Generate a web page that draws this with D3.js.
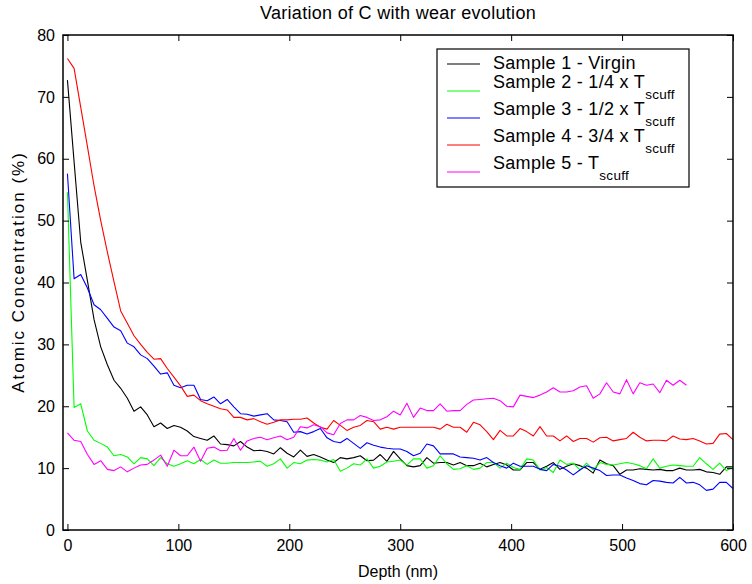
<!DOCTYPE html>
<html>
<head>
<meta charset="utf-8">
<script src="https://cdn.jsdelivr.net/npm/d3@7"></script>
<style>
  body { margin: 0; background: #fff; }
  svg text { font-family: "Liberation Sans", Arial, sans-serif; fill: #000; }
  .tick-label { font-size: 16px; }
</style>
</head>
<body>
<div id="chart"></div>
<script>
// depth grid (nm)
const depth = [0, 6, 12, 18, 24, 30, 36, 42, 48, 54, 60, 66, 72, 78, 84, 90, 96, 102, 108, 114,
  120, 126, 132, 138, 144, 150, 156, 162, 168, 174, 180, 186, 192, 198, 204, 210, 216, 222, 228, 234,
  240, 246, 252, 258, 264, 270, 276, 282, 288, 294, 300, 306, 312, 318, 324, 330, 336, 342, 348, 354,
  360, 366, 372, 378, 384, 390, 396, 402, 408, 414, 420, 426, 432, 438, 444, 450, 456, 462, 468, 474,
  480, 486, 492, 498, 504, 510, 516, 522, 528, 534, 540, 546, 552, 558, 564, 570, 576, 582, 588, 594, 600];

const sample1 = [72.7, 59.5, 46.5, 40.3, 34.0, 29.6, 26.7, 24.2, 22.9, 21.3,
  19.2, 19.9, 18.6, 16.7, 17.3, 16.4, 16.9, 16.6, 16.0, 15.1,
  14.8, 14.5, 15.2, 13.9, 13.8, 13.6, 14.3, 13.4, 12.8, 12.9,
  12.7, 12.3, 13.3, 12.4, 11.8, 12.9, 11.9, 12.2, 11.8, 11.3,
  10.9, 11.7, 11.5, 11.7, 12.0, 11.2, 11.3, 12.2, 11.1, 12.7,
  11.5, 10.4, 10.2, 10.4, 11.7, 10.8, 10.9, 10.9, 10.5, 10.9,
  10.4, 10.4, 10.8, 10.2, 10.6, 10.9, 10.5, 9.7, 9.7, 10.9,
  10.9, 9.8, 10.3, 10.9, 9.8, 10.3, 10.7, 10.4, 10.0, 9.2,
  11.3, 10.7, 10.4, 9.0, 9.7, 9.7, 9.9, 9.8, 9.7, 9.8,
  9.6, 9.6, 10.0, 9.7, 9.7, 9.8, 9.4, 9.3, 9.0, 10.2,
  10.2];

const sample2 = [54.6, 19.8, 20.4, 16.0, 14.5, 14.0, 13.4, 12.0, 12.2, 11.8,
  10.7, 11.7, 11.5, 10.4, 11.7, 10.7, 10.3, 10.7, 11.2, 10.7,
  11.4, 10.6, 11.3, 10.8, 10.8, 10.9, 10.9, 10.9, 11.0, 11.1,
  10.3, 10.7, 11.5, 10.0, 10.9, 10.7, 11.3, 11.4, 11.3, 11.0,
  11.4, 9.5, 10.0, 10.7, 10.5, 11.5, 10.0, 10.3, 11.0, 11.1,
  11.3, 10.5, 11.5, 11.5, 10.0, 10.4, 12.0, 10.7, 9.8, 9.9,
  10.4, 9.8, 10.0, 10.9, 10.9, 10.0, 10.8, 10.1, 9.8, 11.5,
  11.3, 9.7, 10.1, 9.3, 11.3, 10.6, 10.8, 9.7, 10.8, 9.7,
  10.9, 10.6, 10.5, 10.7, 10.9, 10.7, 10.4, 9.9, 11.5, 10.0,
  10.3, 10.5, 10.4, 10.3, 10.3, 11.7, 10.7, 9.8, 10.8, 9.6,
  10.2];

const sample3 = [57.6, 40.6, 41.3, 39.1, 36.4, 35.6, 34.2, 32.8, 32.2, 30.2,
  29.6, 28.3, 27.7, 26.5, 25.2, 25.4, 23.4, 23.0, 23.4, 23.4,
  21.1, 20.9, 21.5, 20.4, 21.1, 19.9, 18.8, 18.7, 18.4, 18.6,
  18.8, 17.8, 17.7, 17.5, 15.8, 15.9, 15.5, 15.9, 16.4, 14.9,
  14.3, 14.1, 14.8, 14.0, 13.2, 14.1, 13.7, 13.4, 13.2, 13.1,
  13.1, 12.7, 12.0, 12.4, 13.9, 13.6, 12.3, 12.3, 12.3, 11.8,
  11.7, 11.6, 11.3, 11.7, 10.9, 10.4, 10.0, 10.8, 10.3, 10.3,
  10.3, 9.8, 9.6, 10.6, 10.3, 9.7, 8.9, 9.7, 10.4, 10.0,
  9.6, 8.8, 8.9, 8.9, 8.4, 8.0, 7.5, 7.3, 8.0, 7.9,
  7.7, 7.6, 8.5, 7.6, 7.7, 7.3, 6.4, 6.6, 7.7, 7.7,
  6.7];

const sample4 = [76.2, 74.6, 68.3, 62.0, 55.6, 50.0, 44.9, 40.1, 35.4, 33.4,
  31.4, 30.0, 28.7, 27.6, 27.7, 26.1, 24.7, 23.3, 21.6, 21.8,
  20.9, 20.4, 20.0, 19.6, 19.4, 18.2, 18.2, 17.8, 18.0, 17.5,
  17.1, 17.4, 17.8, 17.8, 17.9, 17.9, 18.1, 17.3, 16.6, 16.3,
  17.7, 16.9, 16.1, 16.6, 16.9, 17.7, 17.5, 16.3, 16.6, 16.3,
  16.6, 16.6, 16.6, 16.6, 16.6, 16.6, 16.3, 17.1, 16.6, 16.6,
  15.8, 17.4, 17.0, 15.9, 14.6, 16.1, 15.2, 15.2, 16.4, 15.9,
  15.2, 16.7, 15.2, 15.2, 14.4, 15.2, 14.3, 14.8, 14.8, 14.2,
  14.9, 15.0, 14.4, 14.6, 14.8, 15.8, 15.0, 14.4, 14.5, 14.5,
  14.4, 15.2, 14.7, 14.6, 14.8, 14.4, 13.9, 14.0, 15.5, 15.6,
  14.6];

// sample 5 stops near 560 nm
const sample5 = [15.7, 14.5, 14.3, 12.2, 10.6, 11.2, 9.8, 9.6, 10.2, 9.4,
  10.0, 10.5, 10.6, 11.3, 12.1, 10.3, 12.9, 12.0, 12.0, 13.4,
  11.1, 13.2, 13.4, 12.8, 12.9, 14.8, 12.9, 14.4, 14.8, 15.0,
  14.6, 14.9, 15.2, 14.6, 15.0, 16.7, 16.5, 17.0, 16.7, 15.7,
  15.4, 17.2, 17.8, 17.8, 18.5, 18.2, 17.7, 17.8, 18.3, 19.2,
  18.6, 20.5, 18.2, 19.7, 19.3, 19.3, 20.4, 19.2, 19.3, 19.3,
  20.3, 21.0, 21.1, 21.2, 21.3, 20.9, 20.0, 19.9, 21.8, 21.6,
  21.4, 21.8, 22.3, 23.0, 22.3, 22.3, 22.5, 23.1, 23.3, 21.3,
  22.0, 23.8, 22.3, 22.0, 24.3, 22.0, 23.8, 23.4, 23.6, 22.2,
  24.2, 23.4, 24.2, 23.4];

const seriesColors = ["#000000", "#00ff00", "#0000ff", "#ff0000", "#ff00ff"];
const legendMain = ["Sample 1 - Virgin", "Sample 2 - 1/4 x T", "Sample 3 - 1/2 x T", "Sample 4 - 3/4 x T", "Sample 5 - T"];
const legendSub = ["", "scuff", "scuff", "scuff", "scuff"];
const xTicks = [0, 100, 200, 300, 400, 500, 600];
const yTicks = [0, 10, 20, 30, 40, 50, 60, 70, 80];

const series = [sample1, sample2, sample3, sample4, sample5];

const W = 752, H = 584;
const plot = { left: 63, right: 733, top: 35, bottom: 530 };

const svg = d3.select("#chart").append("svg")
  .attr("width", W)
  .attr("height", H);

const x = d3.scaleLinear().domain([-4, 600]).range([plot.left, plot.right]);
const y = d3.scaleLinear().domain([0, 80]).range([plot.bottom, plot.top]);

svg.append("defs").append("clipPath").attr("id", "clip")
  .append("rect")
  .attr("x", plot.left).attr("y", plot.top)
  .attr("width", plot.right - plot.left).attr("height", plot.bottom - plot.top);

// lines
const line = d3.line()
  .x((d, i) => x(depth[i]))
  .y(d => y(d));

svg.append("g").attr("clip-path", "url(#clip)")
  .selectAll("path")
  .data(series)
  .join("path")
  .attr("d", line)
  .attr("fill", "none")
  .attr("stroke", (d, i) => seriesColors[i])
  .attr("stroke-width", 1.1)
  .attr("stroke-linejoin", "round");

// axes, MATLAB style: ticks inside on all four sides
const tickLen = 6;
const bottomAxis = svg.append("g")
  .attr("transform", `translate(0,${plot.bottom})`)
  .call(d3.axisBottom(x).tickValues(xTicks).tickSizeInner(-tickLen).tickSizeOuter(0).tickPadding(10));
const topAxis = svg.append("g")
  .attr("transform", `translate(0,${plot.top})`)
  .call(d3.axisTop(x).tickValues(xTicks).tickSizeInner(-tickLen).tickSizeOuter(0).tickFormat(""));
const leftAxis = svg.append("g")
  .attr("transform", `translate(${plot.left},0)`)
  .call(d3.axisLeft(y).tickValues(yTicks).tickSizeInner(-tickLen).tickSizeOuter(0).tickPadding(8));
const rightAxis = svg.append("g")
  .attr("transform", `translate(${plot.right},0)`)
  .call(d3.axisRight(y).tickValues(yTicks).tickSizeInner(-tickLen).tickSizeOuter(0).tickFormat(""));

[bottomAxis, topAxis, leftAxis, rightAxis].forEach(g => {
  g.select(".domain").remove();
  g.selectAll("line").attr("stroke", "#000").attr("stroke-width", 1);
  g.selectAll("text").attr("class", "tick-label").attr("fill", "#000").style("font-size", "16px");
});

svg.append("rect")
  .attr("x", plot.left).attr("y", plot.top)
  .attr("width", plot.right - plot.left).attr("height", plot.bottom - plot.top)
  .attr("fill", "none")
  .attr("stroke", "#000")
  .attr("stroke-width", 1.5);

// title and axis labels
svg.append("text")
  .attr("x", (plot.left + plot.right) / 2)
  .attr("y", 19)
  .attr("text-anchor", "middle")
  .style("font-size", "18px")
  .style("letter-spacing", "0.3px")
  .text("Variation of C with wear evolution");

svg.append("text")
  .attr("x", (plot.left + plot.right) / 2)
  .attr("y", 577)
  .attr("text-anchor", "middle")
  .style("font-size", "16px")
  .text("Depth (nm)");

svg.append("text")
  .attr("transform", "translate(24,272) rotate(-90)")
  .attr("text-anchor", "middle")
  .style("font-size", "17px")
  .style("letter-spacing", "2px")
  .text("Atomic Concentration (%)");

// legend
const legend = svg.append("g").attr("transform", "translate(437,49)");
legend.append("rect")
  .attr("width", 252).attr("height", 138)
  .attr("fill", "#fff").attr("stroke", "#000").attr("stroke-width", 1.2);

legendMain.forEach((label, i) => {
  const ly = 15 + 27 * i;
  legend.append("line")
    .attr("x1", 10).attr("x2", 43)
    .attr("y1", ly).attr("y2", ly)
    .attr("stroke", seriesColors[i]).attr("stroke-width", 1.2);
  const t = legend.append("text")
    .attr("x", 56)
    .attr("y", legendSub[i] ? ly - 3 : ly + 4.5)
    .style("font-size", "18px")
    .style("letter-spacing", "0.3px");
  t.append("tspan").text(label);
  if (legendSub[i]) {
    t.append("tspan")
      .attr("dy", 10.5)
      .style("font-size", "13.5px")
      .text(legendSub[i]);
  }
});
</script>
</body>
</html>
